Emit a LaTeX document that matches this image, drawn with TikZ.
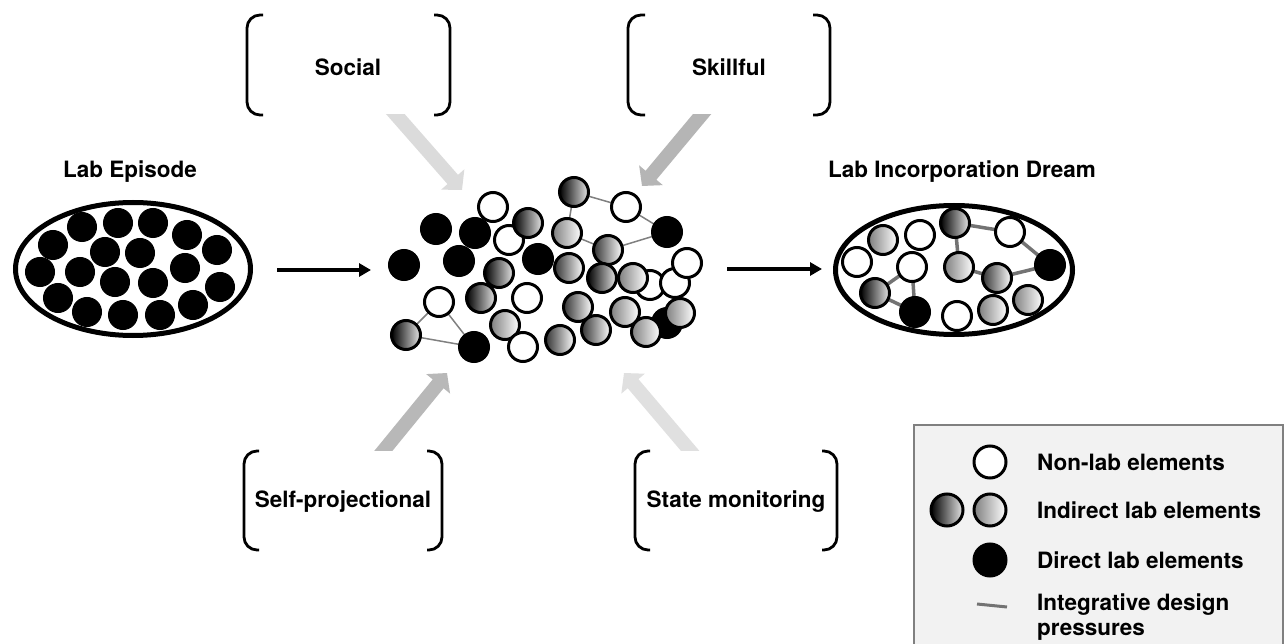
\documentclass[tikz,border=0pt]{standalone}
\usepackage{fontspec}
\setmainfont{TeX Gyre Heros}
\usetikzlibrary{arrows.meta,shapes.geometric}
\pgfdeclarelayer{back}
\pgfdeclarelayer{edges}
\pgfsetlayers{back,edges,main}
\definecolor{socialgray}{gray}{0.86}
\definecolor{skillgray}{gray}{0.71}
\definecolor{selfgray}{gray}{0.72}
\definecolor{stategray}{gray}{0.88}
\definecolor{legfill}{gray}{0.95}
\begin{document}
\begin{tikzpicture}[x=1pt,y=-1pt,
  ball/.style={circle, draw=black, line width=3pt, minimum size=29pt, inner sep=0pt, outer sep=0pt},
  wball/.style={ball, fill=white},
  bball/.style={ball, fill=black},
  gdark/.style={ball, left color=black, middle color=black!78, right color=black!10},
  gmid/.style={ball, left color=black!80, middle color=black!30, right color=white},
  glight/.style={ball, left color=black!50, middle color=black!10, right color=white},
  lball/.style={circle, fill=black, draw=black, line width=1pt, minimum size=29pt, inner sep=0pt},
  link/.style={draw=black!50, line width=1.5pt},
  tlink/.style={draw=black!55, line width=3.5pt},
  bracketline/.style={line width=2.8pt, rounded corners=13pt},
  lbl/.style={font=\bfseries\fontsize{22.5pt}{26pt}\selectfont, inner sep=0pt},
  fat/.style={line width=14pt, -{Triangle[length=14pt,width=30pt]}},
  harrow/.style={line width=4pt, -{Triangle[length=12pt,width=13pt]}},
  container/.style={ellipse, draw=black, line width=5pt, inner sep=0pt}
]
\useasboundingbox (0,0) rectangle (1285,644);
\begin{pgfonlayer}{back}
  \fill[white] (0,0) rectangle (1285,644);
\end{pgfonlayer}

% ---------- titles ----------
\node[lbl] (tEpisode) at (130,172) {Lab Episode};
\node[lbl] (tDream) at (962,172) {Lab Incorporation Dream};

% ---------- left ellipse ----------
\node[container, minimum width=235pt, minimum height=133pt] (epi) at (133,269) {};
\foreach \p [count=\i] in {(82,227),(118,223),(153,223),(187,235),(53,245),(105,252),(140,253),(217,250),(40,272),(80,272),(185,268),(115,282),(153,283),(220,287),(58,298),(87,312),(123,315),(160,315),(193,305)}
  \node[lball] (L\i) at \p {};

% ---------- pressure brackets ----------
\draw[bracketline] (263,15) -- (247,15) -- (247,115) -- (263,115);
\draw[bracketline] (434,15) -- (450,15) -- (450,115) -- (434,115);
\node[lbl] (social) at (348,67) {Social};
\draw[bracketline] (645,15) -- (628,15) -- (628,115) -- (645,115);
\draw[bracketline] (813,15) -- (830,15) -- (830,115) -- (813,115);
\node[lbl] (skillful) at (729,67) {Skillful};
\draw[bracketline] (259,451) -- (244,451) -- (244,550) -- (259,550);
\draw[bracketline] (427,451) -- (442,451) -- (442,550) -- (427,550);
\node[lbl] (selfproj) at (343,502) {Self-projectional};
\draw[bracketline] (650,451) -- (635,451) -- (635,550) -- (650,550);
\draw[bracketline] (822,451) -- (837,451) -- (837,550) -- (822,550);
\node[lbl] (statemon) at (736,502) {State monitoring};

% ---------- fat gray arrows ----------
\coordinate (socT) at (383,100);  \coordinate (socH) at (462,190);
\coordinate (skiT) at (713,101);  \coordinate (skiH) at (642,186);
\coordinate (selT) at (371,466);  \coordinate (selH) at (447,373);
\coordinate (staT) at (703,466);  \coordinate (staH) at (624,373);
\begin{scope}
  \clip (0,115) rectangle (1285,300);
  \draw[fat, draw=socialgray, color=socialgray] (socT) -- (socH);
  \draw[fat, draw=skillgray, color=skillgray] (skiT) -- (skiH);
\end{scope}
\begin{scope}
  \clip (0,300) rectangle (1285,450);
  \draw[fat, draw=selfgray, color=selfgray] (selT) -- (selH);
  \draw[fat, draw=stategray, color=stategray] (staT) -- (staH);
\end{scope}

% ---------- central cluster ----------
\node[bball] (cb) at (436,229) {};
\node[bball] (cf) at (404,265) {};
\node[bball] (cc) at (475,233) {};
\node[bball] (cg) at (459,261) {};
\node[wball] (ca) at (493,207) {};
\node[wball] (cd) at (509,240) {};
\node[gdark] (ce) at (528,223) {};
\node[bball] (ch) at (538,259) {};
\node[gdark] (ci) at (499,273) {};
\node[gdark] (cj) at (481,298) {};
\node[wball] (ck) at (439,302) {};
\node[wball] (cl) at (527,298) {};
\node[glight] (cm) at (505,325) {};
\node[wball] (cn) at (523,347) {};
\node[gdark] (co) at (406,335) {};
\node[bball] (cp) at (474,347) {};
\node[gdark] (cA) at (574,192) {};
\node[wball] (cB) at (626,207) {};
\node[bball] (cC) at (667,232) {};
\node[glight] (cD) at (567,233) {};
\node[gmid] (cE) at (608,250) {};
\node[gmid] (cH) at (569,268) {};
\node[gdark] (cI) at (602,278) {};
\node[wball] (cK) at (650,285) {};
\node[wball] (cL) at (675,283) {};
\node[wball] (cM) at (687,263) {};
\node[glight] (cJ) at (633,278) {};
\node[gmid] (cN) at (578,307) {};
\node[gmid] (cS) at (596,330) {};
\node[gmid] (cT) at (560,340) {};
\node[glight] (cO) at (625,312) {};
\node[bball] (cP) at (667,323) {};
\node[glight] (cR) at (646,332) {};
\node[glight] (cQ) at (680,313) {};
\begin{pgfonlayer}{edges}
  \draw[link] (cA) -- (cB);
  \draw[link] (cA) -- (cD);
  \draw[link] (cB) -- (cC);
  \draw[link] (cD) -- (cE);
  \draw[link] (cE) -- (cC);
  \draw[link] (ck) -- (co);
  \draw[link] (ck) -- (cp);
  \draw[link] (co) -- (cp);
\end{pgfonlayer}

% ---------- horizontal arrows ----------
\coordinate (a1s) at (277,270); \coordinate (a1e) at (371,270);
\coordinate (a2s) at (727,269); \coordinate (a2e) at (822,269);
\draw[harrow] (a1s) -- (a1e);
\draw[harrow] (a2s) -- (a2e);

% ---------- right ellipse ----------
\node[container, minimum width=237pt, minimum height=129pt] (dream) at (954,270) {};
\node[wball] (r1) at (857,262) {};
\node[glight] (r2) at (883,240) {};
\node[wball] (r3) at (920,235) {};
\node[gdark] (r4) at (955,223) {};
\node[wball] (r5) at (912,267) {};
\node[wball] (r6) at (1010,232) {};
\node[gdark] (r7) at (875,293) {};
\node[bball] (r8) at (915,312) {};
\node[glight] (r9) at (959,267) {};
\node[gmid] (r10) at (997,278) {};
\node[bball] (r11) at (1050,265) {};
\node[wball] (r12) at (957,316) {};
\node[glight] (r13) at (993,310) {};
\node[glight] (r14) at (1028,300) {};
\begin{pgfonlayer}{edges}
  \draw[tlink] (r4) -- (r6);
  \draw[tlink] (r4) -- (r9);
  \draw[tlink] (r6) -- (r11);
  \draw[tlink] (r9) -- (r10);
  \draw[tlink] (r10) -- (r11);
  \draw[tlink] (r7) -- (r5);
  \draw[tlink] (r5) -- (r8);
  \draw[tlink] (r7) -- (r8);
\end{pgfonlayer}

% ---------- legend ----------
\draw[draw=black!50, fill=legfill, line width=1.5pt] (914,425) rectangle (1283,660);
\node[wball, minimum size=32pt] (lgW) at (990,462) {};
\node[lbl, anchor=west] (lgWt) at (1037,462) {Non-lab elements};
\node[gdark, minimum size=32pt] (lgD) at (947,510) {};
\node[glight, minimum size=32pt] (lgL) at (990,510) {};
\node[lbl, anchor=west] (lgIt) at (1037,510) {Indirect lab elements};
\node[bball, minimum size=32pt] (lgB) at (990,560) {};
\node[lbl, anchor=west] (lgBt) at (1037,560) {Direct lab elements};
\coordinate (lgP1) at (977,604); \coordinate (lgP2) at (1007,607);
\draw[tlink, line width=3pt] (lgP1) -- (lgP2);
\node[lbl, anchor=north west, align=left, font=\bfseries\fontsize{22.5pt}{25pt}\selectfont] (lgPt) at (1037,594) {Integrative design\\pressures};
\end{tikzpicture}
\end{document}
